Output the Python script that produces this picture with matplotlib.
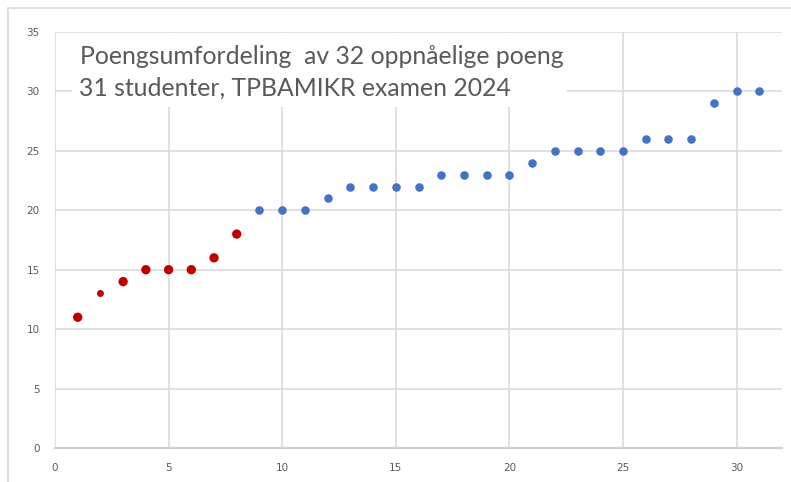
import matplotlib.pyplot as plt
from matplotlib.patches import Rectangle

# Scores sorted ascending, one per student
redX = [1, 2, 3, 4, 5, 6, 7, 8]
redY = [11, 13, 14, 15, 15, 15, 16, 18]
blueX = list(range(9, 32))
blueY = [20, 20, 20, 21, 22, 22, 22, 22, 23, 23, 23, 23, 24,
         25, 25, 25, 25, 26, 26, 26, 29, 30, 30]
xTicks = [0, 5, 10, 15, 20, 25, 30]
yTicks = [0, 5, 10, 15, 20, 25, 30, 35]
titleLines = ["Poengsumfordeling  av 32 oppnåelige poeng",
              "31 studenter, TPBAMIKR examen 2024"]

fig = plt.figure(figsize=(7.91, 4.82), dpi=100)
W, H = 791, 482

# outer chart frame (partly outside image, as in the screenshot)
fig.patches.append(Rectangle((8 / W, -0.1), 1.2, (H - 8) / H + 0.1, transform=fig.transFigure,
                             fill=False, edgecolor='#d9d9d9', linewidth=1.2))

ax = fig.add_axes([55 / W, 1 - 448 / H, (782 - 55) / W, (448 - 32) / H])
ax.set_xlim(0, 32)
ax.set_ylim(0, 35)
ax.set_xticks(xTicks)
ax.set_yticks(yTicks)
ax.grid(True, color='#d9d9d9', linewidth=1.1)
ax.set_axisbelow(True)
for s in ['top', 'right', 'left']:
    ax.spines[s].set_visible(False)
ax.spines['bottom'].set_color('#d0d0d0')
ax.spines['bottom'].set_linewidth(1.5)
ax.tick_params(length=0, labelsize=7.5, labelcolor='#595959', pad=11)
ax.tick_params(axis='y', pad=11)

redSizes = [45] * len(redX)
redSizes[1] = 25
ax.scatter(redX, redY, s=redSizes, color='#C00000', zorder=3, linewidths=0)
ax.scatter(blueX, blueY, s=38, color='#4472C4', zorder=3, linewidths=0)

# title box covering the gridlines
fig.patches.append(Rectangle((72 / W, 1 - 107 / H), (567 - 72) / W, (107 - 33) / H,
                             transform=fig.transFigure, facecolor='white', edgecolor='none', zorder=5))
fig.text(80 / W, 1 - 64 / H, titleLines[0], fontsize=17.8, family='Lato', color='#595959',
         zorder=6, va='baseline')
fig.text(79 / W, 1 - 96 / H, titleLines[1], fontsize=17.8, family='Lato', color='#595959',
         zorder=6, va='baseline')

fig.savefig('out.png', dpi=100)
